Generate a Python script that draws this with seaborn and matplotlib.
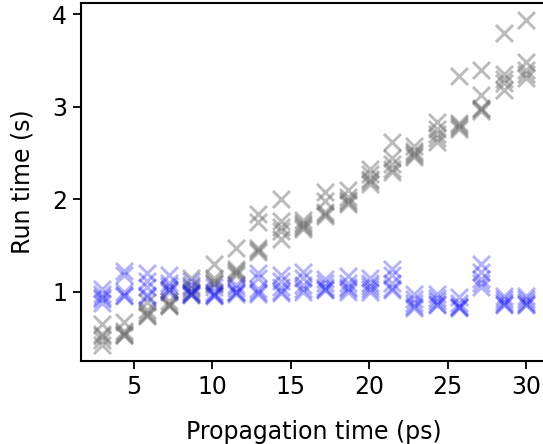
import numpy as np
import pandas as pd
import matplotlib
matplotlib.use("Agg")
import matplotlib.pyplot as plt
import seaborn as sns

sns.set_style("ticks")
plt.rcParams.update({
    "text.color": "black",
    "axes.labelcolor": "black",
    "xtick.color": "black",
    "ytick.color": "black",
    "axes.edgecolor": "black",
})

# propagation times (ps)
prop_time = [3.0, 4.42, 5.84, 7.26, 8.68, 10.11, 11.53, 12.95, 14.37, 15.79,
             17.21, 18.63, 20.05, 21.47, 22.89, 24.32, 25.74, 27.16, 28.58, 30.0]

# run times (s), five repeats per propagation time
gray_runs = [
    [0.65, 0.55, 0.52, 0.48, 0.43],
    [0.68, 0.58, 0.56, 0.54, 0.53],
    [0.89, 0.80, 0.77, 0.75, 0.74],
    [1.02, 0.90, 0.87, 0.86, 0.85],
    [1.15, 1.08, 1.03, 1.00, 0.98],
    [1.30, 1.15, 1.12, 1.10, 1.09],
    [1.47, 1.25, 1.23, 1.20, 1.18],
    [1.84, 1.75, 1.47, 1.45, 1.43],
    [2.00, 1.77, 1.70, 1.66, 1.57],
    [1.78, 1.74, 1.72, 1.70, 1.68],
    [2.08, 1.98, 1.86, 1.84, 1.82],
    [2.10, 2.02, 1.99, 1.97, 1.95],
    [2.33, 2.27, 2.22, 2.20, 2.17],
    [2.62, 2.45, 2.38, 2.33, 2.30],
    [2.58, 2.52, 2.50, 2.48, 2.46],
    [2.83, 2.76, 2.70, 2.66, 2.62],
    [3.33, 2.82, 2.80, 2.78, 2.76],
    [3.40, 3.13, 2.99, 2.97, 2.95],
    [3.80, 3.35, 3.30, 3.26, 3.18],
    [3.94, 3.48, 3.40, 3.35, 3.31],
]

blue_runs = [
    [1.03, 0.98, 0.95, 0.92, 0.88],
    [1.23, 1.18, 1.00, 0.97, 0.96],
    [1.20, 1.12, 1.05, 0.97, 0.95],
    [1.18, 1.10, 1.06, 1.03, 1.00],
    [1.12, 1.05, 1.00, 0.98, 0.97],
    [1.05, 1.00, 0.98, 0.97, 0.96],
    [1.08, 1.04, 1.00, 1.00, 0.98],
    [1.20, 1.15, 1.03, 1.00, 0.98],
    [1.18, 1.12, 1.05, 1.01, 0.99],
    [1.22, 1.15, 1.08, 1.03, 1.00],
    [1.14, 1.10, 1.05, 1.03, 1.02],
    [1.17, 1.10, 1.05, 1.03, 1.00],
    [1.15, 1.10, 1.06, 1.03, 1.00],
    [1.25, 1.18, 1.10, 1.04, 1.02],
    [0.98, 0.92, 0.88, 0.85, 0.83],
    [0.98, 0.93, 0.90, 0.87, 0.86],
    [0.95, 0.88, 0.85, 0.84, 0.83],
    [1.30, 1.22, 1.14, 1.10, 1.05],
    [0.96, 0.92, 0.89, 0.87, 0.86],
    [0.96, 0.92, 0.89, 0.87, 0.86],
]


def to_frame(runs):
    rows = []
    for x, ys in zip(prop_time, runs):
        for y in ys:
            rows.append({"prop": x, "run": y})
    return pd.DataFrame(rows)


df_gray = to_frame(gray_runs)
df_blue = to_frame(blue_runs)

fig = plt.figure(figsize=(5.43, 4.44), dpi=100)
ax = fig.add_axes([0.1492, 0.1869, 0.8586, 0.8056])

sns.scatterplot(data=df_gray, x="prop", y="run", marker="x", color="dimgray",
                alpha=0.45, s=150, linewidth=2.1, ax=ax)
sns.scatterplot(data=df_blue, x="prop", y="run", marker="x", color="blue",
                alpha=0.3, s=150, linewidth=2.1, ax=ax)

ax.set_xticks([5, 10, 15, 20, 25, 30])
ax.set_yticks([1, 2, 3, 4])
ax.set_xlabel("Propagation time (ps)", fontsize=17)
ax.set_ylabel("Run time (s)", fontsize=17)
ax.tick_params(labelsize=17, length=6, width=1.3, pad=4)
ax.yaxis.set_label_coords(-0.1, 0.5)
ax.xaxis.set_label_coords(0.5, -0.165)
for sp in ax.spines.values():
    sp.set_linewidth(1.5)

fig.savefig("out.png", dpi=100)
